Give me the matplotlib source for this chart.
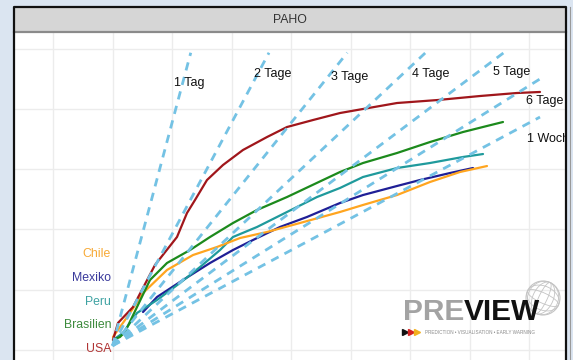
import matplotlib
matplotlib.use("Agg")
import matplotlib.pyplot as plt
from matplotlib.patches import Rectangle, Ellipse, Circle
from matplotlib.lines import Line2D
from matplotlib.transforms import IdentityTransform
import numpy as np

plt.rcParams['font.family'] = ['Liberation Sans', 'DejaVu Sans']

W, H = 573, 360

# --- country curves (x: days axis units, y: log-scale case units) ---
usa_x = [1.008, 1.092, 1.345, 1.714, 2.084, 2.252, 2.387, 2.588, 2.857, 3.193,
         3.597, 3.933, 4.370, 4.824, 5.210, 5.782, 6.471, 7.176, 7.798, 8.185]
usa_y = [0.166, 0.448, 0.713, 1.410, 1.874, 2.272, 2.488, 2.819, 3.068, 3.317,
         3.532, 3.698, 3.814, 3.930, 3.997, 4.096, 4.146, 4.212, 4.262, 4.279]

bra_x = [1.008, 1.126, 1.210, 1.412, 1.630, 1.916, 2.303, 2.639, 3.025, 3.429,
         3.933, 4.538, 4.824, 5.210, 5.782, 6.336, 6.891, 7.294, 7.563]
bra_y = [0.166, 0.216, 0.299, 0.713, 1.161, 1.443, 1.658, 1.874, 2.106, 2.322,
         2.537, 2.819, 2.952, 3.101, 3.267, 3.449, 3.615, 3.715, 3.781]

per_x = [1.008, 1.176, 1.412, 1.748, 2.134, 2.471, 2.807, 3.025, 3.429, 3.933,
         4.437, 4.824, 5.210, 5.782, 6.336, 6.891, 7.227]
per_y = [0.166, 0.282, 0.614, 0.829, 1.111, 1.376, 1.658, 1.874, 2.040, 2.289,
         2.537, 2.687, 2.869, 3.018, 3.101, 3.201, 3.250]

mex_x = [1.513, 1.748, 2.185, 2.639, 3.025, 3.361, 3.815, 4.269, 4.824, 5.210,
         5.782, 6.168, 6.672, 7.059]
mex_y = [0.630, 0.879, 1.161, 1.443, 1.658, 1.824, 2.040, 2.206, 2.438, 2.570,
         2.720, 2.819, 2.935, 3.018]

chl_x = [1.008, 1.294, 1.513, 1.916, 2.353, 2.756, 3.143, 3.597, 4.151, 4.824,
         5.210, 5.782, 6.336, 6.840, 7.294]
chl_y = [0.216, 0.614, 0.945, 1.327, 1.575, 1.708, 1.857, 1.957, 2.106, 2.289,
         2.405, 2.570, 2.786, 2.952, 3.051]

countries = ["USA", "Brasilien", "Peru", "Mexiko", "Chile"]
line_colors = ["#a0161b", "#1c8a1c", "#1f9a9c", "#1f1f96", "#ffa51f"]
label_colors = ["#b03434", "#3c8a3c", "#3ea2a2", "#3a3a9c", "#f7a935"]
label_y = [0.017, 0.415, 0.796, 1.194, 1.592]

# --- doubling-time reference lines ---
doubling_days = [1, 2, 3, 4, 5, 6, 7]
doubling_labels = ["1 Tag", "2 Tage", "3 Tage", "4 Tage", "5 Tage", "6 Tage", "1 Woche"]
ref_x0, ref_y0 = 1.0, 0.07
days_per_unit = 0.2706
ref_y_max, ref_x_max = 4.93, 8.185
doubling_label_x = [2.286, 3.697, 4.992, 6.353, 7.714, 8.269, 7.966]
doubling_label_y = [4.428, 4.577, 4.527, 4.577, 4.610, 4.129, 3.499]

fig = plt.figure(figsize=(W / 100, H / 100), dpi=100)
fig.patch.set_facecolor("#dbe5f1")

# panel frame and header strip
ax_left, ax_right, ax_top = 15, 565, 33
ax = fig.add_axes([ax_left / W, 0, (ax_right - ax_left) / W, 1 - ax_top / H])
ax.set_facecolor("white")
ax.set_xlim((ax_left - 53) / 59.5, (ax_right - 53) / 59.5)
ax.set_ylim((350 - H) / 60.3, (350 - ax_top) / 60.3)
for s in ax.spines.values():
    s.set_visible(False)
ax.set_xticks(np.arange(0, 9))
ax.set_yticks(np.arange(0, 6))
ax.tick_params(length=0, labelbottom=False, labelleft=False)
ax.grid(True, color="#ececec", linewidth=1.0)
ax.set_axisbelow(True)

fig.patches.append(Rectangle((14 / W, 1 - 32 / H), (566 - 14) / W, 25 / H,
                             transform=fig.transFigure, facecolor="#d6d6d6",
                             edgecolor="none", zorder=1))
fig.lines.append(Line2D([14 / W, 566 / W], [1 - 32 / H, 1 - 32 / H],
                        transform=fig.transFigure, color="#8a8a8a", lw=1.6, zorder=2))
fig.lines.append(Line2D([14 / W, 14 / W, 566 / W, 566 / W],
                        [0, 1 - 7 / H, 1 - 7 / H, 0],
                        transform=fig.transFigure, color="#111111", lw=1.6, zorder=3))
fig.lines.append(Line2D([569.5 / W, 569.5 / W], [0, 1 - 7 / H],
                        transform=fig.transFigure, color="#9a9a9a", lw=0.8, zorder=3))
fig.text(290 / W, 1 - 20 / H, "PAHO", ha="center", va="center",
         fontsize=8.8, color="#333333", zorder=4)

# country curves
series = [(usa_x, usa_y), (bra_x, bra_y), (per_x, per_y), (mex_x, mex_y), (chl_x, chl_y)]
order = [3, 2, 4, 1, 0]
for i in order:
    xs, ys = series[i]
    ax.plot(xs, ys, color=line_colors[i], lw=1.6, zorder=3,
            solid_capstyle="round", solid_joinstyle="round")

for name, col, yy in zip(countries, label_colors, label_y):
    ax.text(0.975, yy, name, color=col, fontsize=8.8, ha="right", va="center", zorder=5)

# dashed doubling lines, drawn above the curves
for d, lab, lx, ly in zip(doubling_days, doubling_labels, doubling_label_x, doubling_label_y):
    k = days_per_unit * d
    y_end = min(ref_y_max, ref_y0 + (ref_x_max - ref_x0) / k)
    ys = np.array([ref_y0, y_end])
    xs = ref_x0 + k * (ys - ref_y0)
    ax.plot(xs, ys, color="#74c2e4", lw=2.0, dashes=(3.0, 2.4), zorder=4,
            solid_capstyle="butt")
    ha = "left" if lab == "1 Woche" else "center"
    ax.text(lx, ly, lab, fontsize=9, color="#111111", ha=ha, va="center",
            zorder=5, clip_on=True)

# logo
ident = IdentityTransform()
gx, gy, gr = 543, H - 298, 17
globe_col = "#c4c4c4"
fig.patches.append(Circle((gx, gy), gr, transform=ident, fill=False,
                          edgecolor=globe_col, lw=0.8, zorder=6))
for wfrac in [0.25, 0.6, 0.9]:
    fig.patches.append(Ellipse((gx, gy), 2 * gr * wfrac, 2 * gr, angle=-25,
                               transform=ident, fill=False, edgecolor=globe_col,
                               lw=0.6, zorder=6))
for hfrac in [0.3, 0.7]:
    fig.patches.append(Ellipse((gx, gy), 2 * gr, 2 * gr * hfrac, angle=-25,
                               transform=ident, fill=False, edgecolor=globe_col,
                               lw=0.6, zorder=6))

t_pre = fig.text(403 / W, 1 - 312.5 / H, "PRE", fontsize=21.5, fontweight="bold",
                 color="#a3a3a3", ha="left", va="center", zorder=7)
fig.canvas.draw()
bb = t_pre.get_window_extent()
fig.text(bb.x1 / W, 1 - 312.5 / H, "VIEW", fontsize=21.5, fontweight="bold",
         color="#111111", ha="left", va="center", zorder=7)
for px, col in zip([405, 411, 417], ["#111111", "#d42020", "#f2b01e"]):
    fig.lines.append(Line2D([px / W], [1 - 332 / H], transform=fig.transFigure,
                            marker=">", markersize=4, color=col, lw=0, zorder=7))
fig.text(425 / W, 1 - 332 / H, "PREDICTION \u2022 VISUALISATION \u2022 EARLY WARNING",
         fontsize=3.3, color="#8a8a8a", ha="left", va="center", zorder=7)

fig.savefig("out.png", dpi=100, facecolor=fig.get_facecolor())
